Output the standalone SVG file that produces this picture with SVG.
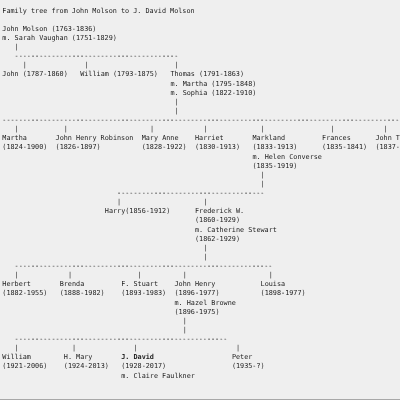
<svg xmlns="http://www.w3.org/2000/svg" width="400" height="400" viewBox="0 0 400 400">
<style>
text{font-family:"DejaVu Sans Mono","Liberation Mono",monospace;font-size:6.8px;fill:#222;white-space:pre}
.b{font-weight:bold}
</style>
<defs>
<filter id="gray" filterUnits="userSpaceOnUse" x="0" y="0" width="400" height="400"><feOffset dx="0" dy="0"/></filter>
</defs>
<rect x="0" y="0" width="400" height="400" fill="#efefef"/>
<rect x="0" y="399" width="400" height="1" fill="#a8a8a8"/>
<g filter="url(#gray)">
<text id="title" x="2.3" y="12.5">Family tree from John Molson to J. David Molson</text>
<g id="connectors">
<text x="14.6" y="49">|</text>
<text x="14.6" y="58.125">----------------------------------------</text>
<text x="22.8" y="67.25">|</text>
<text x="84.3" y="67.25">|</text>
<text x="174.5" y="67.25">|</text>
<text x="174.5" y="103.75">|</text>
<text x="174.5" y="112.875">|</text>
<text x="2.3" y="122">-------------------------------------------------------------------------------------------------</text>
<text x="14.6" y="131.125">|</text>
<text x="63.8" y="131.125">|</text>
<text x="149.9" y="131.125">|</text>
<text x="203.2" y="131.125">|</text>
<text x="260.6" y="131.125">|</text>
<text x="330.3" y="131.125">|</text>
<text x="383.6" y="131.125">|</text>
<text x="260.6" y="176.75">|</text>
<text x="260.6" y="185.875">|</text>
<text x="117.1" y="195">------------------------------------</text>
<text x="117.1" y="204.125">|</text>
<text x="203.2" y="204.125">|</text>
<text x="203.2" y="249.75">|</text>
<text x="203.2" y="258.875">|</text>
<text x="14.6" y="268">---------------------------------------------------------------</text>
<text x="14.6" y="277.125">|</text>
<text x="67.9" y="277.125">|</text>
<text x="137.6" y="277.125">|</text>
<text x="182.7" y="277.125">|</text>
<text x="268.8" y="277.125">|</text>
<text x="182.7" y="322.75">|</text>
<text x="182.7" y="331.875">|</text>
<text x="14.6" y="341">----------------------------------------------------</text>
<text x="14.6" y="350.125">|</text>
<text x="72" y="350.125">|</text>
<text x="133.5" y="350.125">|</text>
<text x="236" y="350.125">|</text>
</g>
<g id="john-molson"><text x="2.3" y="30.75">John Molson (1763-1836)</text><text x="2.3" y="39.875">m. Sarah Vaughan (1751-1829)</text></g>
<g id="john-1787"><text x="2.3" y="76.375">John (1787-1860)</text></g>
<g id="william-1793"><text x="80.2" y="76.375">William (1793-1875)</text></g>
<g id="thomas"><text x="170.4" y="76.375">Thomas (1791-1863)</text><text x="170.4" y="85.5">m. Martha (1795-1848)</text><text x="170.4" y="94.625">m. Sophia (1822-1910)</text></g>
<g id="martha"><text x="2.3" y="140.25">Martha</text><text x="2.3" y="149.375">(1824-1900)</text></g>
<g id="john-henry-robinson"><text x="55.6" y="140.25">John Henry Robinson</text><text x="55.6" y="149.375">(1826-1897)</text></g>
<g id="mary-anne"><text x="141.7" y="140.25">Mary Anne</text><text x="141.7" y="149.375">(1828-1922)</text></g>
<g id="harriet"><text x="195" y="140.25">Harriet</text><text x="195" y="149.375">(1830-1913)</text></g>
<g id="markland"><text x="252.4" y="140.25">Markland</text><text x="252.4" y="149.375">(1833-1913)</text><text x="252.4" y="158.5">m. Helen Converse</text><text x="252.4" y="167.625">(1835-1919)</text></g>
<g id="frances"><text x="322.1" y="140.25">Frances</text><text x="322.1" y="149.375">(1835-1841)</text></g>
<g id="john-t"><text x="375.4" y="140.25">John T</text><text x="375.4" y="149.375">(1837-</text></g>
<g id="harry"><text x="104.8" y="213.25">Harry(1856-1912)</text></g>
<g id="frederick"><text x="195" y="213.25">Frederick W.</text><text x="195" y="222.375">(1860-1929)</text><text x="195" y="231.5">m. Catherine Stewart</text><text x="195" y="240.625">(1862-1929)</text></g>
<g id="herbert"><text x="2.3" y="286.25">Herbert</text><text x="2.3" y="295.375">(1882-1955)</text></g>
<g id="brenda"><text x="59.7" y="286.25">Brenda</text><text x="59.7" y="295.375">(1888-1982)</text></g>
<g id="f-stuart"><text x="121.2" y="286.25">F. Stuart</text><text x="121.2" y="295.375">(1893-1983)</text></g>
<g id="john-henry"><text x="174.5" y="286.25">John Henry</text><text x="174.5" y="295.375">(1896-1977)</text><text x="174.5" y="304.5">m. Hazel Browne</text><text x="174.5" y="313.625">(1896-1975)</text></g>
<g id="louisa"><text x="260.6" y="286.25">Louisa</text><text x="260.6" y="295.375">(1898-1977)</text></g>
<g id="william-1921"><text x="2.3" y="359.25">William</text><text x="2.3" y="368.375">(1921-2006)</text></g>
<g id="h-mary"><text x="63.8" y="359.25">H. Mary</text><text x="63.8" y="368.375">(1924-2013)</text></g>
<g id="j-david"><text class="b" x="121.2" y="359.25">J. David</text><text x="121.2" y="368.375">(1928-2017)</text><text x="121.2" y="377.5">m. Claire Faulkner</text></g>
<g id="peter"><text x="231.9" y="359.25">Peter</text><text x="231.9" y="368.375">(1935-?)</text></g>
</g>
</svg>
